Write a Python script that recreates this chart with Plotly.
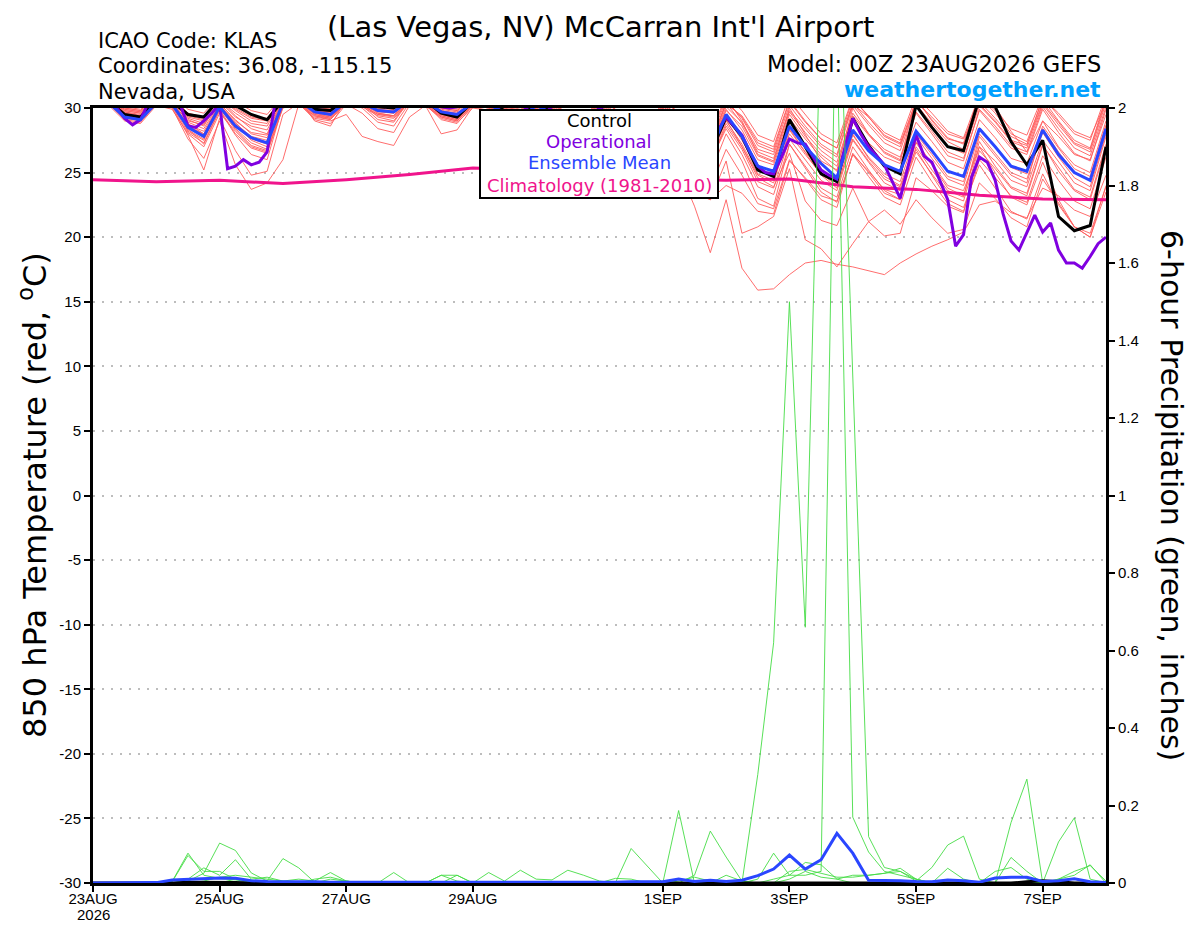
import pandas as pd
import plotly.graph_objects as go

# forecast hours from 00Z 23AUG2026
start = pd.Timestamp("2026-08-23 00:00")
hours6 = list(range(0, 385, 6))
hours3 = list(range(0, 385, 3))
clim_days = list(range(0, 17))

tick_dates = ["2026-08-23", "2026-08-25", "2026-08-27", "2026-08-29",
              "2026-09-01", "2026-09-03", "2026-09-05", "2026-09-07"]
tick_text = ["23AUG", "25AUG", "27AUG", "29AUG", "1SEP", "3SEP", "5SEP", "7SEP"]
temp_ticks = [-30, -25, -20, -15, -10, -5, 0, 5, 10, 15, 20, 25, 30]

# ---- 850 hPa temperature (C), 6-hourly ----
control_t = [30.8, 30.5, 29.5, 29.3, 30.6, 30.5, 29.5, 29.3,
             30.7, 30.2, 29.5, 29.1, 30.6, 30.8, 29.9, 29.8,
             30.7, 30.6, 30.1, 30.0, 30.8, 30.6, 29.6, 29.3,
             30.5, 30.4, 29.8, 29.4, 30.4, 29.8, 28.9, 28.4,
             30.0, 29.2, 27.9, 27.3, 29.6, 28.7, 26.8, 26.5,
             29.3, 27.8, 25.2, 24.7, 29.1, 27.0, 24.9, 24.3,
             29.2, 27.1, 25.5, 24.9, 30.2, 28.5, 27.0, 26.7,
             30.8, 30.1, 27.4, 25.6, 27.5, 21.6, 20.5, 20.9,
             27.0]

mean_t = [30.6, 30.4, 29.3, 29.1, 30.4, 30.3, 28.5, 27.8,
          30.1, 28.6, 27.7, 27.3, 30.4, 30.6, 29.7, 29.5,
          30.5, 30.4, 29.8, 29.7, 30.6, 30.5, 29.7, 29.5,
          30.4, 30.3, 29.6, 29.2, 30.2, 29.6, 28.6, 28.2,
          29.8, 28.9, 27.6, 27.1, 29.5, 28.6, 26.9, 26.6,
          29.5, 27.8, 25.5, 25.1, 28.6, 27.0, 25.7, 24.6,
          28.3, 26.7, 25.6, 25.1, 28.2, 26.7, 25.1, 24.7,
          28.4, 27.0, 25.5, 25.1, 28.3, 26.4, 25.0, 24.4,
          28.4]

# operational run is 3-hourly
oper_t = [30.9, 30.7, 30.5, 30.0, 29.2, 28.7, 29.1, 30.4,
          30.9, 30.8, 30.6, 30.3, 28.6, 28.5, 29.0, 29.6,
          30.3, 25.3, 25.5, 26.0, 25.6, 25.8, 26.6, 30.4,
          31.0, 31.2, 30.8, 30.4, 30.2, 30.1, 30.3, 30.8,
          31.1, 31.2, 30.9, 30.5, 30.2, 30.1, 30.2, 30.6,
          31.0, 31.1, 30.8, 30.4, 30.1, 30.0, 30.1, 30.5,
          30.9, 30.9, 30.5, 30.0, 29.6, 29.4, 29.6, 30.1,
          30.6, 30.4, 29.8, 29.1, 28.6, 28.4, 28.7, 29.4,
          30.0, 29.6, 28.9, 28.1, 27.5, 27.2, 27.4, 28.4,
          29.4, 29.0, 28.2, 27.4, 26.8, 26.5, 26.7, 28.3,
          29.3, 28.6, 27.9, 26.6, 25.5, 25.0, 24.9, 26.2,
          27.6, 27.3, 27.2, 26.2, 25.2, 24.8, 24.5, 26.9,
          29.2, 28.0, 27.0, 26.3, 25.6, 24.3, 23.0, 25.5,
          27.9, 26.3, 25.8, 24.4, 22.9, 19.3, 20.2, 24.6,
          26.2, 25.8, 24.4, 21.8, 19.7, 19.0, 20.4, 21.7,
          20.4, 21.1, 19.0, 18.0, 18.0, 17.6, 18.5, 19.5,
          20.0]

# climatology, daily at 00Z
clim_t = [24.45, 24.3, 24.4, 24.15, 24.45, 24.85, 25.35, 25.2, 24.9,
          24.5, 24.4, 24.5, 23.9, 23.7, 23.25, 22.95, 22.9]

member01 = [30.8, 30.5, 29.6, 29.4, 30.7, 30.5, 28.9, 28.4,
            30.4, 29.0, 28.1, 27.9, 30.6, 30.8, 29.8, 29.6,
            30.8, 30.5, 29.9, 29.8, 30.8, 30.6, 29.8, 29.6,
            30.5, 30.4, 29.7, 29.4, 30.4, 29.8, 28.9, 28.5,
            30.0, 29.1, 27.9, 27.4, 29.8, 28.9, 27.2, 26.9,
            29.9, 28.3, 26.0, 25.6, 29.2, 27.6, 26.2, 25.1,
            28.9, 27.3, 26.2, 25.7, 28.9, 27.4, 25.8, 25.3,
            29.1, 27.7, 26.1, 25.7, 29.0, 27.0, 25.6, 25.0,
            29.0]
member02 = [31.0, 30.8, 30.1, 29.9, 31.0, 30.9, 29.6, 29.3,
            30.9, 30.2, 29.4, 29.2, 30.9, 31.1, 30.2, 30.0,
            31.0, 30.8, 30.2, 30.1, 31.1, 30.9, 30.2, 30.0,
            30.9, 30.7, 30.1, 29.8, 30.8, 30.3, 29.5, 29.1,
            30.5, 29.7, 28.6, 28.1, 30.3, 29.5, 27.9, 27.6,
            30.6, 29.2, 27.1, 26.6, 30.2, 28.6, 27.2, 26.4,
            30.4, 28.9, 27.6, 27.0, 30.6, 29.1, 27.7, 27.2,
            30.9, 29.6, 28.0, 27.4, 30.7, 29.0, 27.5, 26.9,
            30.8]
member03 = [30.6, 30.3, 29.2, 29.0, 30.3, 30.0, 27.6, 26.1,
            29.0, 25.6, 23.7, 24.2, 26.0, 30.3, 29.4, 29.2,
            30.4, 30.2, 29.5, 29.4, 30.5, 30.3, 29.3, 29.0,
            30.2, 30.0, 29.3, 28.9, 30.0, 29.2, 28.2, 27.8,
            29.4, 28.5, 27.1, 26.6, 29.0, 28.0, 26.2, 25.8,
            28.6, 26.8, 24.3, 23.8, 27.6, 26.0, 24.4, 23.6,
            27.5, 25.8, 24.2, 23.6, 27.3, 25.6, 23.8, 23.2,
            27.4, 25.5, 23.9, 23.4, 27.2, 25.1, 23.6, 22.9,
            27.0]
member04 = [30.7, 30.4, 29.5, 29.3, 30.5, 30.3, 28.4, 27.2,
            29.8, 27.9, 26.4, 26.0, 30.2, 30.5, 29.5, 29.2,
            30.6, 30.3, 29.6, 29.4, 30.6, 30.4, 29.5, 29.2,
            30.3, 30.1, 29.4, 28.9, 29.9, 29.3, 28.0, 27.4,
            28.9, 27.8, 26.0, 25.2, 27.0, 25.3, 22.4, 18.8,
            22.9, 17.6, 15.9, 16.0, 17.1, 18.0, 18.2, 17.9,
            17.7, 17.4, 17.1, 18.0, 18.7, 19.3, 19.8, 20.4,
            22.5, 22.8, 21.9, 21.5, 23.8, 23.2, 22.1, 21.6,
            24.8]
member05 = [30.5, 30.2, 29.0, 28.8, 30.2, 29.9, 28.0, 27.0,
            29.6, 28.2, 27.0, 26.6, 30.0, 30.3, 29.2, 29.0,
            29.5, 27.8, 27.4, 27.1, 29.3, 30.2, 28.0, 28.3,
            30.1, 29.8, 28.9, 28.4, 29.6, 28.8, 27.6, 27.2,
            28.8, 27.9, 26.5, 25.8, 27.9, 26.4, 23.6, 22.9,
            25.9, 20.3, 20.8, 21.6, 25.3, 19.8, 19.1, 17.7,
            19.5, 21.2, 22.1, 21.0, 22.9, 21.5, 20.3, 20.6,
            24.2, 23.0, 21.5, 20.8, 24.5, 22.6, 20.8, 20.0,
            24.0]
member06 = [30.9, 30.6, 29.8, 29.6, 30.8, 30.6, 28.2, 27.5,
            30.1, 28.4, 27.3, 26.8, 30.5, 30.7, 29.0, 28.6,
            30.7, 30.4, 29.3, 29.0, 30.7, 30.5, 29.4, 29.1,
            30.6, 30.5, 29.9, 29.6, 30.6, 30.0, 29.2, 28.8,
            30.2, 29.4, 28.3, 27.8, 30.1, 29.3, 27.6, 27.3,
            30.4, 28.8, 26.6, 26.1, 29.7, 28.1, 26.7, 25.8,
            29.6, 28.0, 26.8, 26.2, 29.7, 28.2, 26.6, 26.1,
            29.8, 28.4, 26.9, 26.4, 29.9, 28.1, 26.5, 25.9,
            29.9]
member07 = [30.6, 30.3, 29.4, 29.1, 30.4, 30.2, 28.8, 28.0,
            30.2, 28.9, 27.6, 27.2, 30.3, 30.5, 29.6, 29.4,
            30.5, 30.3, 29.7, 29.6, 30.5, 30.3, 29.6, 29.3,
            30.3, 30.1, 29.5, 29.1, 30.1, 29.4, 28.4, 27.9,
            29.6, 28.7, 27.3, 26.8, 29.3, 28.3, 26.5, 26.1,
            29.0, 27.2, 24.9, 24.4, 28.0, 26.4, 24.9, 24.0,
            27.6, 25.9, 24.5, 23.9, 26.8, 24.8, 22.9, 22.3,
            25.6, 23.8, 22.0, 21.4, 24.9, 22.5, 20.8, 20.3,
            23.9]
member08 = [30.7, 30.5, 29.7, 29.5, 30.6, 30.4, 29.0, 28.7,
            30.5, 29.3, 28.6, 28.3, 30.7, 30.9, 30.0, 29.8,
            30.9, 30.7, 30.0, 29.9, 31.0, 30.8, 29.9, 29.7,
            30.7, 30.6, 30.0, 29.7, 30.7, 30.1, 29.3, 28.9,
            30.3, 29.5, 28.2, 27.7, 30.0, 29.1, 27.4, 27.0,
            30.1, 28.9, 26.8, 26.4, 29.8, 28.4, 27.0, 26.2,
            30.2, 28.7, 27.3, 26.7, 30.3, 28.8, 27.4, 26.8,
            30.5, 29.2, 27.8, 27.2, 30.4, 28.9, 27.3, 26.8,
            30.6]
member09 = [30.8, 30.6, 29.7, 29.4, 30.6, 30.5, 28.6, 27.9,
            30.3, 28.7, 27.5, 27.0, 30.4, 30.6, 29.7, 29.5,
            30.6, 30.4, 29.8, 29.7, 30.6, 30.4, 29.7, 29.4,
            30.4, 30.3, 29.6, 29.2, 30.3, 29.7, 28.8, 28.3,
            29.9, 29.0, 27.7, 27.1, 29.5, 28.4, 26.6, 26.2,
            29.1, 27.0, 24.6, 23.9, 26.5, 22.8, 21.3, 20.9,
            23.8, 21.2, 20.1, 20.3, 24.6, 23.6, 22.4, 21.9,
            26.7, 25.3, 23.8, 23.2, 27.1, 25.4, 23.7, 23.1,
            27.2]
member10 = [30.5, 30.3, 29.1, 28.9, 30.3, 30.1, 27.9, 25.2,
            29.2, 26.7, 24.8, 25.1, 29.5, 30.4, 29.3, 29.1,
            30.4, 30.1, 29.4, 29.2, 30.4, 30.2, 29.2, 28.9,
            30.0, 29.8, 29.0, 28.5, 29.6, 28.7, 27.4, 26.8,
            28.4, 27.0, 25.4, 24.7, 26.9, 25.2, 23.4, 22.9,
            24.0, 23.4, 22.0, 21.8, 25.9, 24.6, 23.2, 22.8,
            26.4, 25.1, 23.7, 23.3, 26.6, 24.9, 23.3, 22.8,
            27.0, 25.9, 24.4, 23.9, 27.5, 25.8, 24.2, 23.6,
            27.8]
member11 = [31.1, 30.9, 30.0, 29.8, 31.1, 31.0, 29.9, 29.6,
            31.0, 30.5, 29.8, 29.5, 31.0, 31.2, 30.3, 30.1,
            31.1, 30.9, 30.3, 30.2, 31.2, 31.0, 30.3, 30.1,
            31.0, 30.8, 30.2, 29.9, 30.9, 30.4, 29.6, 29.2,
            30.7, 29.9, 28.8, 28.3, 30.5, 29.7, 28.1, 27.8,
            30.8, 29.0, 26.4, 25.9, 30.0, 28.0, 25.9, 25.2,
            30.0, 28.0, 26.5, 25.9, 30.8, 29.0, 27.6, 27.3,
            31.0, 30.1, 28.2, 26.6, 29.0, 27.8, 26.4, 26.0,
            29.5]
member12 = [30.6, 30.4, 29.3, 29.0, 30.4, 30.2, 28.1, 27.3,
            29.9, 28.0, 26.9, 26.5, 30.1, 30.4, 29.1, 28.8,
            30.3, 29.6, 28.4, 28.1, 30.2, 30.3, 29.1, 28.8,
            30.2, 30.0, 29.3, 28.8, 29.9, 29.1, 28.0, 27.5,
            29.2, 28.2, 26.8, 26.2, 28.6, 27.4, 25.4, 24.9,
            28.0, 25.9, 23.0, 22.4, 27.2, 25.5, 23.8, 23.1,
            27.0, 25.2, 23.6, 22.9, 27.8, 26.1, 24.5, 24.0,
            28.0, 26.5, 25.0, 24.5, 28.1, 26.2, 24.6, 23.9,
            28.0]
member13 = [30.9, 30.7, 29.9, 29.7, 30.9, 30.8, 29.3, 29.0,
            30.8, 29.8, 29.0, 28.8, 30.8, 31.0, 29.9, 29.7,
            30.8, 30.6, 29.6, 29.4, 30.9, 30.7, 30.0, 29.8,
            30.8, 30.7, 30.0, 29.6, 30.6, 30.0, 29.1, 28.7,
            30.1, 29.3, 28.0, 27.5, 29.9, 29.0, 27.2, 26.8,
            29.8, 28.6, 26.3, 25.8, 29.5, 27.8, 26.4, 25.5,
            29.4, 27.9, 26.6, 26.0, 29.6, 28.0, 26.3, 25.9,
            29.9, 28.6, 27.1, 26.6, 30.1, 28.4, 26.9, 26.3,
            30.1]
member14 = [30.7, 30.5, 29.5, 29.2, 30.6, 30.4, 28.7, 28.2,
            30.3, 29.1, 28.0, 27.7, 30.5, 30.7, 29.6, 29.3,
            30.7, 30.5, 29.8, 29.6, 30.7, 30.5, 29.6, 29.3,
            30.4, 30.2, 29.5, 29.1, 30.2, 29.5, 28.6, 28.1,
            29.8, 28.9, 27.5, 27.0, 29.4, 28.5, 26.8, 26.4,
            29.4, 27.5, 25.3, 24.8, 28.4, 26.6, 25.2, 24.3,
            28.0, 26.1, 24.7, 24.0, 27.4, 25.7, 24.0, 23.6,
            27.0, 25.0, 23.1, 22.5, 25.8, 22.9, 20.8, 20.0,
            23.5]
member15 = [30.8, 30.6, 29.6, 29.3, 30.7, 30.5, 29.2, 28.8,
            30.6, 29.6, 28.8, 28.6, 30.7, 30.9, 29.8, 29.6,
            30.6, 30.2, 29.1, 28.9, 30.6, 30.4, 29.5, 29.2,
            30.5, 30.3, 29.6, 29.2, 30.3, 29.6, 28.7, 28.2,
            29.9, 28.9, 27.4, 26.9, 29.4, 28.2, 26.3, 25.8,
            28.8, 27.0, 24.8, 24.2, 28.3, 26.5, 24.8, 23.8,
            27.9, 26.2, 24.9, 24.3, 28.0, 26.4, 24.7, 24.3,
            28.5, 27.0, 25.4, 24.9, 28.6, 26.9, 25.3, 24.7,
            28.7]
member16 = [31.0, 30.7, 29.8, 29.6, 30.9, 30.7, 29.4, 29.1,
            30.7, 29.9, 29.2, 29.0, 30.9, 31.1, 30.1, 29.9,
            31.0, 30.8, 30.1, 30.0, 31.0, 30.9, 30.1, 29.9,
            30.8, 30.6, 29.9, 29.6, 30.7, 30.2, 29.4, 29.0,
            30.4, 29.6, 28.4, 27.9, 30.2, 29.4, 27.8, 27.4,
            30.3, 29.4, 27.5, 27.0, 30.6, 29.0, 27.6, 26.9,
            30.3, 29.3, 27.9, 27.3, 30.5, 29.3, 28.0, 27.6,
            30.3, 29.0, 27.5, 27.1, 30.8, 29.6, 28.2, 27.7,
            30.5]
member17 = [30.9, 30.6, 29.9, 29.7, 30.8, 30.6, 29.1, 28.6,
            30.6, 29.4, 28.4, 28.0, 30.7, 30.9, 29.9, 29.7,
            30.9, 30.6, 29.9, 29.7, 30.9, 30.7, 29.8, 29.5,
            30.6, 30.5, 29.8, 29.5, 30.5, 29.9, 29.0, 28.6,
            30.1, 29.2, 27.9, 27.4, 29.9, 29.0, 27.3, 26.9,
            30.4, 29.3, 27.3, 26.8, 30.5, 28.9, 27.6, 26.9,
            30.7, 29.4, 28.1, 27.5, 30.9, 29.6, 28.2, 27.7,
            31.0, 29.8, 28.4, 27.9, 30.9, 29.4, 28.0, 27.5,
            31.0]
member18 = [30.7, 30.4, 29.4, 29.2, 30.5, 30.3, 28.3, 27.6,
            30.0, 28.3, 27.1, 26.7, 30.2, 30.5, 29.4, 29.1,
            30.4, 30.0, 28.9, 28.6, 30.4, 30.2, 29.3, 29.0,
            30.3, 30.1, 29.4, 29.0, 30.0, 29.3, 28.3, 27.8,
            29.5, 28.6, 27.2, 26.6, 29.1, 28.1, 26.4, 25.9,
            28.4, 26.4, 23.9, 23.3, 27.2, 25.3, 23.5, 22.7,
            26.4, 24.7, 23.1, 22.5, 26.2, 24.3, 22.6, 22.0,
            26.0, 24.6, 23.2, 22.7, 26.3, 24.4, 22.8, 22.2,
            26.2]
member19 = [30.6, 30.4, 29.4, 29.1, 30.5, 30.3, 28.6, 28.0,
            30.2, 28.8, 27.8, 27.5, 30.4, 30.6, 29.5, 29.3,
            30.5, 30.2, 29.5, 29.3, 30.5, 30.3, 29.4, 29.1,
            30.2, 30.0, 29.2, 28.7, 29.7, 28.9, 27.8, 27.2,
            28.8, 27.6, 26.0, 25.3, 28.0, 26.6, 24.4, 23.8,
            26.8, 24.8, 22.6, 22.2, 26.0, 24.5, 22.9, 22.3,
            26.5, 25.0, 23.4, 22.9, 27.0, 25.2, 23.6, 23.1,
            27.8, 26.3, 24.8, 24.2, 28.4, 26.6, 25.0, 24.4,
            28.6]
member20 = [31.0, 30.8, 30.0, 29.8, 31.0, 30.8, 29.5, 29.2,
            30.8, 30.0, 29.3, 29.1, 30.9, 31.1, 30.1, 29.9,
            31.0, 30.8, 30.1, 29.9, 31.0, 30.8, 30.0, 29.8,
            30.9, 30.7, 30.1, 29.8, 30.8, 30.3, 29.6, 29.2,
            30.6, 29.9, 28.8, 28.3, 30.5, 29.7, 28.3, 27.9,
            31.0, 29.8, 27.9, 27.4, 31.0, 29.5, 28.0, 27.3,
            30.8, 29.3, 27.8, 27.2, 30.2, 28.6, 27.0, 26.5,
            30.2, 28.9, 27.4, 26.9, 30.3, 28.7, 27.2, 26.6,
            30.4]
members_t = [member01, member02, member03, member04, member05, member06,
             member07, member08, member09, member10, member11, member12,
             member13, member14, member15, member16, member17, member18,
             member19, member20]

# ---- 6-hour precipitation (inches) ----
mean_p = [0, 0, 0, 0, 0.001, 0.008, 0.010, 0.012,
          0.013, 0.012, 0.006, 0.004, 0.004, 0.003, 0.003, 0.002,
          0.002, 0.001, 0.001, 0.002, 0.001, 0.001, 0.002, 0.002,
          0.001, 0.002, 0.001, 0.002, 0.001, 0.001, 0.002, 0.002,
          0.001, 0.002, 0.003, 0.003, 0.003, 0.010, 0.004, 0.007,
          0.004, 0.007, 0.019, 0.036, 0.072, 0.036, 0.060, 0.128,
          0.077, 0.007, 0.007, 0.006, 0.004, 0.003, 0.008, 0.006,
          0.002, 0.013, 0.015, 0.015, 0.004, 0.006, 0.011, 0.003,
          0.001]
control_p = [0, 0, 0, 0, 0, 0, 0.002, 0.002,
             0.001, 0.001, 0, 0, 0, 0, 0, 0,
             0, 0, 0, 0, 0, 0, 0, 0,
             0, 0, 0, 0, 0, 0, 0, 0,
             0, 0, 0, 0, 0, 0, 0, 0,
             0, 0, 0, 0, 0, 0, 0, 0,
             0, 0, 0, 0, 0, 0, 0, 0,
             0, 0, 0, 0.003, 0.006, 0.003, 0, 0,
             0]
gp01 = [0, 0, 0, 0, 0, 0.004, 0.077, 0.020,
        0.012, 0.008, 0.002, 0, 0, 0, 0, 0,
        0, 0, 0, 0, 0, 0, 0, 0,
        0, 0, 0, 0, 0, 0, 0, 0,
        0, 0, 0, 0, 0, 0, 0, 0,
        0, 0, 0.28, 0.62, 1.50, 0.66, 2.30, 2.20,
        0.17, 0.08, 0.03, 0.02, 0.01, 0, 0, 0,
        0, 0, 0, 0, 0, 0, 0, 0,
        0]
gp02 = [0, 0, 0, 0, 0, 0.003, 0.071, 0.030,
        0.030, 0.010, 0.004, 0, 0, 0, 0, 0,
        0, 0, 0, 0, 0, 0, 0, 0,
        0, 0, 0, 0, 0, 0, 0, 0,
        0, 0, 0, 0, 0, 0, 0, 0,
        0, 0, 0, 0.010, 0.020, 0.020, 0.030, 2.50,
        1.30, 0.12, 0.04, 0.03, 0.01, 0, 0, 0,
        0, 0, 0, 0, 0, 0, 0, 0,
        0]
gp03 = [0, 0, 0, 0, 0, 0, 0.005, 0.025,
        0.103, 0.084, 0.026, 0.005, 0.063, 0.039, 0.002, 0,
        0, 0, 0, 0, 0, 0, 0, 0,
        0, 0, 0, 0, 0, 0, 0, 0,
        0, 0, 0.089, 0.045, 0, 0.187, 0, 0.005,
        0, 0, 0, 0, 0, 0, 0, 0,
        0, 0, 0, 0, 0, 0, 0, 0,
        0, 0, 0, 0, 0, 0, 0, 0,
        0]
gp04 = [0, 0, 0, 0, 0, 0, 0.010, 0.039,
        0.020, 0.060, 0.010, 0.015, 0.005, 0.010, 0.005, 0.027,
        0.005, 0, 0, 0, 0, 0, 0.020, 0.005,
        0, 0, 0, 0, 0, 0, 0, 0,
        0, 0, 0, 0, 0, 0, 0.020, 0.134,
        0.067, 0.005, 0, 0, 0, 0, 0, 0,
        0, 0, 0, 0, 0.005, 0.040, 0.098, 0.121,
        0.010, 0, 0, 0, 0, 0, 0, 0,
        0]
gp05 = [0, 0, 0, 0, 0, 0, 0, 0.005,
        0.015, 0.020, 0.015, 0.010, 0.005, 0, 0, 0.010,
        0.005, 0, 0, 0.027, 0, 0, 0, 0.020,
        0, 0.027, 0.005, 0.033, 0.010, 0.008, 0.033, 0.020,
        0.005, 0, 0, 0, 0, 0, 0, 0,
        0, 0, 0, 0, 0, 0, 0, 0,
        0, 0, 0, 0, 0, 0, 0, 0,
        0, 0, 0.156, 0.268, 0, 0, 0, 0,
        0]
gp06 = [0, 0, 0, 0, 0, 0, 0, 0,
        0, 0.010, 0.005, 0, 0, 0, 0, 0,
        0, 0, 0, 0, 0, 0, 0.020, 0.020,
        0, 0, 0, 0, 0, 0, 0, 0,
        0, 0, 0, 0, 0, 0, 0, 0,
        0, 0, 0.010, 0.077, 0.020, 0.053, 0.047, 0.010,
        0, 0, 0, 0, 0, 0, 0, 0,
        0, 0, 0, 0, 0, 0.106, 0.168, 0.010,
        0]
gp07 = [0, 0, 0, 0, 0, 0, 0, 0,
        0, 0, 0, 0, 0, 0, 0.010, 0.015,
        0.005, 0, 0, 0, 0, 0, 0, 0,
        0, 0, 0, 0, 0, 0, 0, 0,
        0, 0, 0, 0, 0, 0.005, 0.015, 0.005,
        0, 0, 0, 0, 0.010, 0.030, 0.015, 0.010,
        0.020, 0.020, 0.025, 0.038, 0.010, 0, 0, 0,
        0, 0, 0.066, 0.030, 0, 0.010, 0.020, 0.047,
        0]
gp08 = [0, 0, 0, 0, 0, 0, 0, 0,
        0, 0, 0, 0, 0, 0, 0, 0,
        0, 0, 0, 0, 0, 0, 0, 0,
        0, 0, 0, 0, 0, 0, 0, 0,
        0, 0.012, 0.010, 0, 0, 0, 0, 0,
        0.020, 0.005, 0, 0, 0.030, 0.035, 0.025, 0.015,
        0.015, 0.020, 0.025, 0.030, 0.005, 0, 0.038, 0.010,
        0, 0.030, 0.040, 0.010, 0, 0.010, 0.030, 0.045,
        0.005]
members_p = [gp01, gp02, gp03, gp04, gp05, gp06, gp07, gp08]

t6 = [start + pd.Timedelta(hours=h) for h in hours6]
t3 = [start + pd.Timedelta(hours=h) for h in hours3]
tday = [start + pd.Timedelta(days=d) for d in clim_days]

RED = "#ff5c5c"
GREEN = "#45dc45"
PURPLE = "#8000e0"
BLUE = "#2a46ff"
PINK = "#f0148c"
FONT = "DejaVu Sans, Verdana, sans-serif"
TICKFONT = "Liberation Sans, Arial, sans-serif"

fig = go.Figure()
for m in members_t:
    fig.add_trace(go.Scatter(x=t6, y=m, mode="lines", line=dict(color=RED, width=0.9),
                             showlegend=False, hoverinfo="skip"))
for m in members_p:
    fig.add_trace(go.Scatter(x=t6, y=m, mode="lines", line=dict(color=GREEN, width=0.9),
                             yaxis="y2", showlegend=False, hoverinfo="skip"))
fig.add_trace(go.Scatter(x=tday, y=clim_t, mode="lines", line=dict(color=PINK, width=3)))
fig.add_trace(go.Scatter(x=t6, y=control_t, mode="lines", line=dict(color="black", width=3)))
fig.add_trace(go.Scatter(x=t6, y=control_p, mode="lines", line=dict(color="black", width=3), yaxis="y2"))
fig.add_trace(go.Scatter(x=t3, y=oper_t, mode="lines", line=dict(color=PURPLE, width=3)))
fig.add_trace(go.Scatter(x=t6, y=mean_t, mode="lines", line=dict(color=BLUE, width=3)))
fig.add_trace(go.Scatter(x=t6, y=mean_p, mode="lines", line=dict(color=BLUE, width=3), yaxis="y2"))

# page puts the figure 8 px in from the top-left corner
OFF = 8
W, H = 1200 - OFF, 927 - OFF
L, R, T, B = 93 - OFF, 94, 108 - OFF, 44


def px(x, y):
    return (x - OFF - L) / (W - L - R), (H - B - (y - OFF)) / (H - T - B)


ann = []
def text(x, y, s, size, xanchor="center", color="black", angle=0, bold=False,
         family=FONT, yanchor="middle"):
    xp, yp = px(x, y)
    if bold:
        s = "<b>" + s + "</b>"
    ann.append(dict(x=xp, y=yp, xref="paper", yref="paper", text=s, showarrow=False,
                    xanchor=xanchor, yanchor=yanchor, textangle=angle,
                    font=dict(family=family, size=size, color=color)))


text(600, OFF, "(Las Vegas, NV) McCarran Int'l Airport", 29, yanchor="top")
text(96, 41, "ICAO Code: KLAS", 21, "left")
text(96, 66, "Coordinates: 36.08, -115.15", 21, "left")
text(96, 92, "Nevada, USA", 21, "left")
text(1103, 64, "Model: 00Z 23AUG2026 GEFS", 22.5, "right")
text(1103, 89, "weathertogether.net", 22, "right", "#00a0ff", bold=True)
text(33, 495, "850 hPa Temperature (red, <sup>o</sup>C)", 32, angle=-90)
text(1172, 495, "6-hour Precipitation (green, inches)", 30, angle=90)
text(93, 914, "2026", 15, family=TICKFONT)

# legend box
x0, y0 = px(480, 110)
x1, y1 = px(718, 198)
shapes = [dict(type="rect", xref="paper", yref="paper", x0=x0, y0=y0, x1=x1, y1=y1,
               fillcolor="white", line=dict(color="black", width=2), layer="above")]
text(599, 121, "Control", 18, color="black")
text(599, 142, "Operational", 18, color=PURPLE)
text(599, 163, "Ensemble Mean", 18, color=BLUE)
text(599, 185, "Climatology (1981-2010)", 18, color=PINK)

axis_common = dict(ticks="outside", ticklen=6, tickwidth=2, tickcolor="black",
                   zeroline=False, showline=True, linewidth=3, linecolor="black",
                   automargin=False, tickfont=dict(family=TICKFONT, size=15))

fig.update_layout(
    width=W, height=H,
    margin=dict(l=L, r=R, t=T, b=B),
    paper_bgcolor="white", plot_bgcolor="white",
    showlegend=False,
    font=dict(family=FONT, size=14, color="black"),
    annotations=ann, shapes=shapes,
    xaxis=dict(type="date", range=[t6[0], t6[-1]],
               tickvals=[pd.Timestamp(d) for d in tick_dates], ticktext=tick_text,
               ticklabelstandoff=-6,
               showgrid=False, mirror=True, **axis_common),
    yaxis=dict(range=[-30, 30], tickvals=temp_ticks, ticktext=[str(v) for v in temp_ticks],
               showgrid=True, gridcolor="#bdbdbd", gridwidth=1.5, griddash="2px,7px",
               mirror=True, **axis_common),
    yaxis2=dict(range=[0, 2], dtick=0.2, tick0=0, overlaying="y", side="right",
                showgrid=False, **axis_common),
)

fig.write_html("out.html")
